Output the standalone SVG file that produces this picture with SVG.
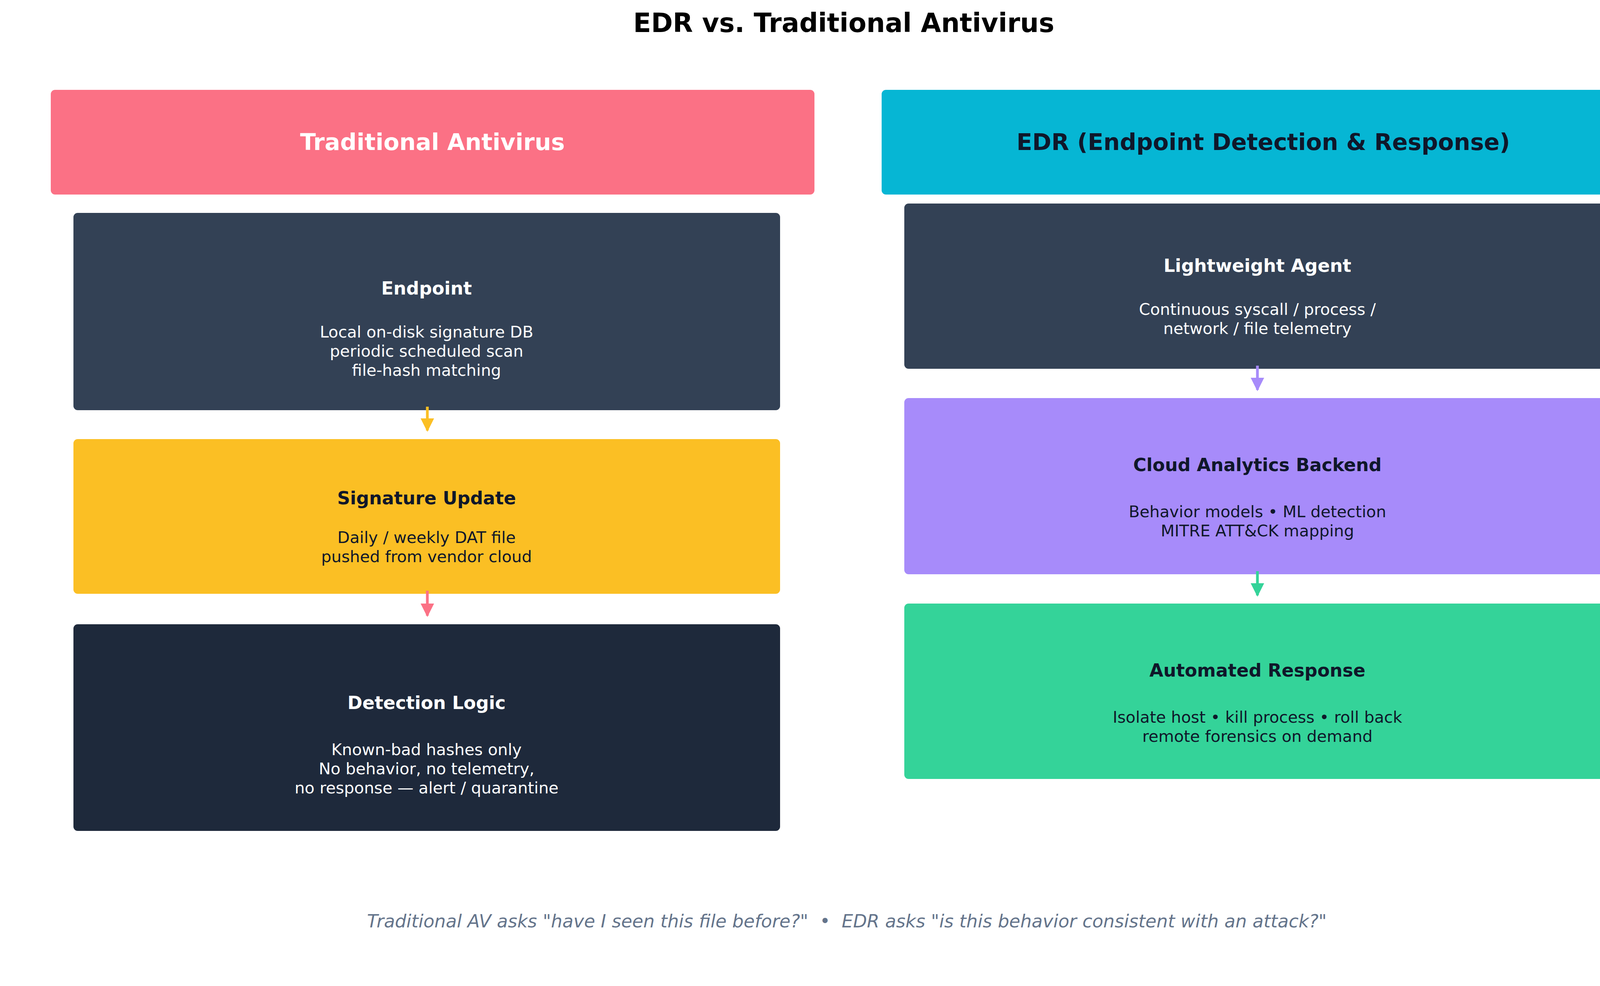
<svg xmlns="http://www.w3.org/2000/svg" width="4320" height="2524" viewBox="0 0 4320 2524">
<style>
text{font-family:"DejaVu Sans",sans-serif;text-anchor:middle}
.t{font-size:46px;font-weight:bold}
.b{font-size:41px}
.h{font-size:59px;font-weight:bold}
.w{fill:#ffffff}
.k{fill:#0f172a}
.c{stroke-width:7;fill:none}
</style>
<defs>
<marker id="ay" markerWidth="5" markerHeight="5" refX="4.5" refY="2.5" orient="auto" markerUnits="strokeWidth"><path d="M0,0L5,2.5L0,5z" fill="#fbbf24"/></marker>
<marker id="ap" markerWidth="5" markerHeight="5" refX="4.5" refY="2.5" orient="auto" markerUnits="strokeWidth"><path d="M0,0L5,2.5L0,5z" fill="#fb7185"/></marker>
<marker id="av" markerWidth="5" markerHeight="5" refX="4.5" refY="2.5" orient="auto" markerUnits="strokeWidth"><path d="M0,0L5,2.5L0,5z" fill="#a78bfa"/></marker>
<marker id="ag" markerWidth="5" markerHeight="5" refX="4.5" refY="2.5" orient="auto" markerUnits="strokeWidth"><path d="M0,0L5,2.5L0,5z" fill="#34d399"/></marker>
</defs>
<rect width="4320" height="2524" fill="#ffffff"/>
<text x="2160" y="82" style="font-size:67px;font-weight:bold" fill="#000">EDR vs. Traditional Antivirus</text>
<g id="hdr-av"><rect x="130" y="230" width="1955" height="268" rx="11" fill="#fb7185"/><text class="h w" x="1107" y="384">Traditional Antivirus</text></g>
<g id="hdr-edr"><rect x="2257" y="230" width="1955" height="268" rx="11" fill="#06b6d4"/><text class="h k" x="3234" y="384">EDR (Endpoint Detection &amp; Response)</text></g>
<g id="endpoint"><rect x="188" y="545" width="1809" height="505" rx="11" fill="#334155"/><text class="t w" x="1092" y="754">Endpoint</text><text class="b w" x="1092" y="864">Local on-disk signature DB</text><text class="b w" x="1092" y="913">periodic scheduled scan</text><text class="b w" x="1092" y="962">file-hash matching</text></g>
<g id="sigupdate"><rect x="188" y="1124" width="1809" height="396" rx="11" fill="#fbbf24"/><text class="t k" x="1092" y="1291">Signature Update</text><text class="b k" x="1092" y="1390">Daily / weekly DAT file</text><text class="b k" x="1092" y="1439">pushed from vendor cloud</text></g>
<g id="detection"><rect x="188" y="1598" width="1809" height="529" rx="11" fill="#1e293b"/><text class="t w" x="1092" y="1815">Detection Logic</text><text class="b w" x="1092" y="1933">Known-bad hashes only</text><text class="b w" x="1092" y="1982">No behavior, no telemetry,</text><text class="b w" x="1092" y="2031">no response — alert / quarantine</text></g>
<g id="agent"><rect x="2315" y="521" width="1808" height="423" rx="11" fill="#334155"/><text class="t w" x="3219" y="696">Lightweight Agent</text><text class="b w" x="3219" y="806">Continuous syscall / process /</text><text class="b w" x="3219" y="855">network / file telemetry</text></g>
<g id="cloud"><rect x="2315" y="1019" width="1808" height="451" rx="11" fill="#a78bfa"/><text class="t k" x="3219" y="1206">Cloud Analytics Backend</text><text class="b k" x="3219" y="1324">Behavior models • ML detection</text><text class="b k" x="3219" y="1373">MITRE ATT&amp;CK mapping</text></g>
<g id="response"><rect x="2315" y="1545" width="1808" height="449" rx="11" fill="#34d399"/><text class="t k" x="3219" y="1732">Automated Response</text><text class="b k" x="3219" y="1850">Isolate host • kill process • roll back</text><text class="b k" x="3219" y="1899">remote forensics on demand</text></g>
<g id="connectors">
<line class="c" x1="1094" y1="1041" x2="1094" y2="1102" stroke="#fbbf24" marker-end="url(#ay)"/>
<line class="c" x1="1094" y1="1512" x2="1094" y2="1576" stroke="#fb7185" marker-end="url(#ap)"/>
<line class="c" x1="3219" y1="936" x2="3219" y2="998" stroke="#a78bfa" marker-end="url(#av)"/>
<line class="c" x1="3219" y1="1462" x2="3219" y2="1524" stroke="#34d399" marker-end="url(#ag)"/>
</g>
<text x="2168" y="2374" style="font-size:46px;font-style:italic;white-space:pre" fill="#64748b">Traditional AV asks "have I seen this file before?"  •  EDR asks "is this behavior consistent with an attack?"</text>
</svg>
